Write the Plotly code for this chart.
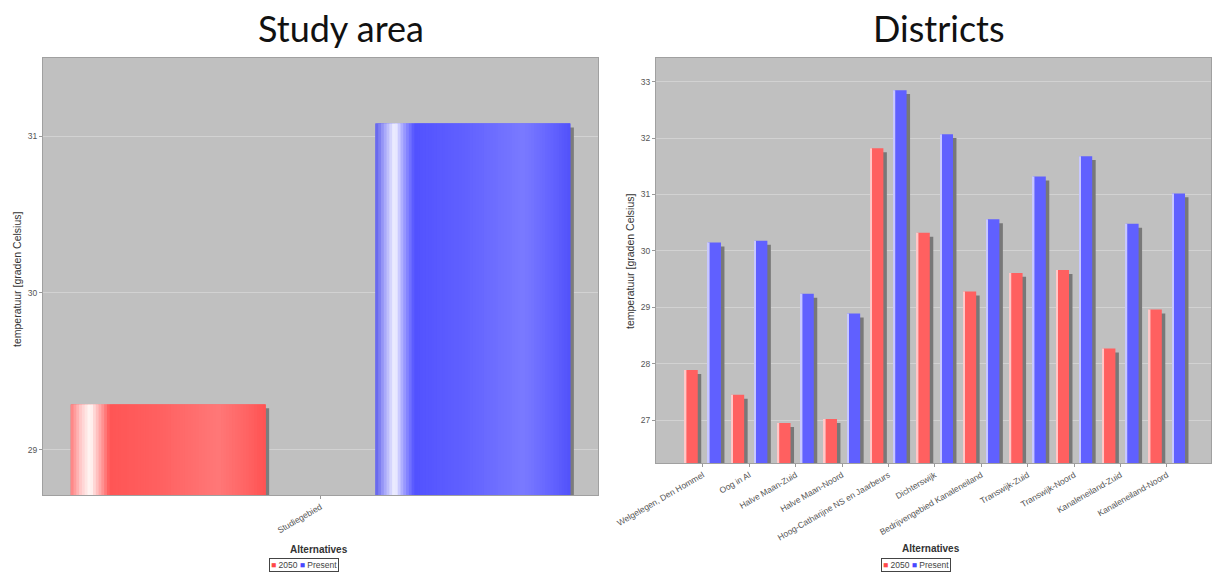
import plotly.graph_objects as go

# ---------------- data ----------------
study_categories = ["Studiegebied"]
study_2050 = [29.29]
study_present = [31.08]

district_categories = [
    "Welgelegen, Den Hommel",
    "Oog in Al",
    "Halve Maan-Zuid",
    "Halve Maan-Noord",
    "Hoog-Catharijne NS en Jaarbeurs",
    "Dichterswijk",
    "Bedrijvengebied Kanaleneiland",
    "Transwijk-Zuid",
    "Transwijk-Noord",
    "Kanaleneiland-Zuid",
    "Kanaleneiland-Noord",
]
district_2050 = [27.89, 27.45, 26.95, 27.02, 31.82, 30.32, 29.28, 29.61, 29.66, 28.27, 28.96]
district_present = [30.15, 30.18, 29.24, 28.89, 32.85, 32.07, 30.56, 31.32, 31.68, 30.48, 31.02]

study_yticks = [29, 30, 31]
district_yticks = [27, 28, 29, 30, 31, 32, 33]

series_names = ["2050", "Present"]

# ---------------- layout helpers ----------------
W, H = 1219, 573


def px_x(p):
    return p / W


def px_y(p):
    return 1 - p / H


fig = go.Figure()


def interp(stops, t):
    for (t0, c0), (t1, c1) in zip(stops, stops[1:]):
        if t0 <= t <= t1:
            f = (t - t0) / (t1 - t0)
            return tuple(round(a + (b - a) * f) for a, b in zip(c0, c1))
    return stops[-1][1]


red_stops = [(0, (255, 125, 125)), (0.05, (255, 200, 200)), (0.1, (255, 250, 248)),
             (0.14, (255, 185, 185)), (0.2, (255, 85, 85)), (0.45, (255, 96, 96)),
             (0.76, (255, 120, 120)), (0.9, (255, 100, 100)), (1, (255, 82, 82))]
blue_stops = [(0, (95, 95, 235)), (0.05, (170, 170, 250)), (0.1, (245, 245, 255)),
              (0.14, (165, 165, 255)), (0.2, (82, 82, 255)), (0.45, (96, 96, 255)),
              (0.76, (122, 122, 255)), (0.9, (100, 100, 255)), (1, (82, 82, 250))]


def add_gradient_bar(x, y, offset, width, stops, xa, ya, n=70):
    sw = width / n
    for i in range(n):
        t = (i + 0.5) / n
        r, g, b = interp(stops, t)
        fig.add_trace(go.Bar(
            x=x, y=y, offset=offset + i * sw, width=sw * 2.0 if i < n - 1 else sw,
            marker=dict(color=f"rgb({r},{g},{b})", line=dict(width=0)),
            xaxis=xa, yaxis=ya, showlegend=False, hoverinfo="skip"))


# ---------------- left chart: Study area ----------------
L_W = 0.351
L_OFF = [-0.450, 0.099]
L_COLORS = ["#FF5555", "#5555FF"]
for vals, off, col, stops, name in zip([study_2050, study_present], L_OFF, L_COLORS,
                                       [red_stops, blue_stops], series_names):
    # shadow
    fig.add_trace(go.Bar(x=study_categories, y=vals, base=-0.025, offset=off + 0.0065, width=L_W,
                         marker=dict(color="#7c7c7c", line=dict(width=0)),
                         xaxis="x", yaxis="y", showlegend=False, hoverinfo="skip"))
    fig.add_trace(go.Bar(x=study_categories, y=vals, offset=off, width=L_W, name=name,
                         marker=dict(color=col, line=dict(width=0)),
                         xaxis="x", yaxis="y", showlegend=False))
    add_gradient_bar(study_categories, vals, off, L_W, stops, "x", "y")

# ---------------- right chart: Districts ----------------
R_W = 0.28
R_OFF = [-0.39, 0.11]
R_COLORS = ["#FF6060", "#6060FF"]
R_HIGHLIGHT = ["#FFC8C8", "#C8C8FF"]
for vals, off, col, hl, name in zip([district_2050, district_present], R_OFF, R_COLORS,
                                    R_HIGHLIGHT, series_names):
    fig.add_trace(go.Bar(x=district_categories, y=vals, base=-0.07, offset=off + 0.075, width=R_W,
                         marker=dict(color="#787878", line=dict(width=0)),
                         xaxis="x2", yaxis="y2", showlegend=False, hoverinfo="skip"))
    fig.add_trace(go.Bar(x=district_categories, y=vals, offset=off, width=R_W, name=name,
                         marker=dict(color=col, line=dict(width=0)),
                         xaxis="x2", yaxis="y2", showlegend=False))
    fig.add_trace(go.Bar(x=district_categories, y=vals, offset=off, width=0.035,
                         marker=dict(color=hl, line=dict(width=0)),
                         xaxis="x2", yaxis="y2", showlegend=False, hoverinfo="skip"))

tickfont = dict(family="Liberation Sans, Arial, sans-serif", size=8.5, color="#555555")
common_x = dict(type="category", showgrid=False, ticks="outside", ticklen=3, tickcolor="#999999",
                tickangle=-30, tickfont=tickfont, showline=True, linecolor="#A0A0A0",
                mirror=True, zeroline=False, automargin=False, fixedrange=True)
common_y = dict(showgrid=True, gridcolor="#D2D2D2", gridwidth=1, ticks="outside", ticklen=3,
                tickcolor="#999999", tickfont=tickfont, showline=True, linecolor="#A0A0A0",
                mirror=True, zeroline=False, automargin=False, fixedrange=True)

fig.update_layout(
    width=W, height=H,
    margin=dict(l=0, r=0, t=0, b=0, autoexpand=False),
    paper_bgcolor="white",
    plot_bgcolor="#C0C0C0",
    barmode="overlay",
    showlegend=False,
    xaxis=dict(common_x, domain=[px_x(43), px_x(598)], range=[-0.5, 0.5], anchor="y"),
    yaxis=dict(common_y, domain=[px_y(495), px_y(58)], range=[28.713, 31.497],
               tickvals=study_yticks, anchor="x"),
    xaxis2=dict(common_x, domain=[px_x(656), px_x(1211)], range=[-1.01, 10.95], anchor="y2"),
    yaxis2=dict(common_y, domain=[px_y(463), px_y(58)], range=[26.24, 33.42],
                tickvals=district_yticks, anchor="x2"),
)

title_font = dict(family="Lato, Open Sans, sans-serif", size=36, color="#111111")
label_font = dict(family="Liberation Sans, Arial, sans-serif", size=10.5, color="#333333")
legend_title_font = dict(family="Liberation Sans, Arial, sans-serif", size=10, color="#333333")
legend_font = dict(family="Liberation Sans, Arial, sans-serif", size=8.5, color="#444444")

legend_text = ('<span style="color:#FF4848">■</span> 2050 '
               '<span style="color:#4848FF">■</span> Present')

annotations = [
    dict(text="Study area", x=px_x(341), y=px_y(28), xref="paper", yref="paper",
         showarrow=False, font=title_font, xanchor="center", yanchor="middle"),
    dict(text="Districts", x=px_x(939), y=px_y(28), xref="paper", yref="paper",
         showarrow=False, font=title_font, xanchor="center", yanchor="middle"),
    dict(text="temperatuur [graden Celsius]", x=px_x(17), y=px_y(280), xref="paper", yref="paper",
         showarrow=False, font=label_font, textangle=-90, xanchor="center", yanchor="middle"),
    dict(text="temperatuur [graden Celsius]", x=px_x(630), y=px_y(262), xref="paper", yref="paper",
         showarrow=False, font=label_font, textangle=-90, xanchor="center", yanchor="middle"),
    dict(text="<b>Alternatives</b>", x=px_x(319), y=px_y(549), xref="paper", yref="paper",
         showarrow=False, font=legend_title_font, xanchor="center", yanchor="middle"),
    dict(text="<b>Alternatives</b>", x=px_x(931), y=px_y(548), xref="paper", yref="paper",
         showarrow=False, font=legend_title_font, xanchor="center", yanchor="middle"),
    dict(text=legend_text, x=px_x(304), y=px_y(558), xref="paper", yref="paper",
         showarrow=False, font=legend_font, xanchor="center", yanchor="top",
         bordercolor="#444444", borderwidth=1, borderpad=1, bgcolor="white"),
    dict(text=legend_text, x=px_x(916), y=px_y(558), xref="paper", yref="paper",
         showarrow=False, font=legend_font, xanchor="center", yanchor="top",
         bordercolor="#444444", borderwidth=1, borderpad=1, bgcolor="white"),
]
fig.update_layout(annotations=annotations)

fig.write_html(
    "out.html",
    config={"displayModeBar": False},
    post_script="document.body.style.margin='0';document.body.style.overflow='hidden';",
)
